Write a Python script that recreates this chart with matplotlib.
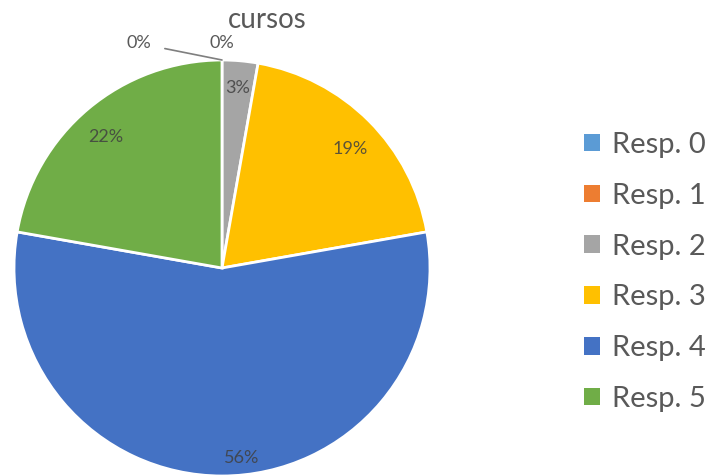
import numpy as np
import matplotlib
matplotlib.use('Agg')
import matplotlib.pyplot as plt

plt.rcParams['font.family'] = ['Lato', 'DejaVu Sans']

# 数据
categorias = ['Resp. 0', 'Resp. 1', 'Resp. 2', 'Resp. 3', 'Resp. 4', 'Resp. 5']
respuestas = [0, 0, 1, 7, 20, 8]
colores = ['#5B9BD5', '#ED7D31', '#A5A5A5', '#FFC000', '#4472C4', '#70AD47']
titulo = 'cursos'

W, H = 728, 476
fig = plt.figure(figsize=(W / 100, H / 100), dpi=100)

# 饼图位置 (像素)
cx, cy, r = 222, 268, 208
ax = fig.add_axes([(cx - r) / W, 1 - (cy + r) / H, 2 * r / W, 2 * r / H])
wedges, _ = ax.pie(respuestas, colors=colores, startangle=90, counterclock=False,
                   radius=1, wedgeprops=dict(edgecolor='white', linewidth=2))
ax.set_xlim(-1, 1)
ax.set_ylim(-1, 1)
ax.set_axis_off()

total = sum(respuestas)
# 标签的半径和角度偏移
label_r = [1.08, 1.08, 0.87, 0.84, 0.92, 0.84]
label_dang = [0, 0, 0, -2, 6, 1.5]
for i, (w, v) in enumerate(zip(wedges, respuestas)):
    pct = f'{round(100 * v / total):.0f}%'
    ang = np.deg2rad((w.theta1 + w.theta2) / 2 + label_dang[i])
    x, y = label_r[i] * np.cos(ang), label_r[i] * np.sin(ang)
    if i == 0:
        ax.annotate(pct, xy=(x / label_r[i], y / label_r[i]),
                    xytext=(x - 0.40, y), ha='center', va='center',
                    fontsize=13, color='#595959', annotation_clip=False,
                    arrowprops=dict(arrowstyle='-', color='#7f7f7f', lw=1.2,
                                    shrinkA=8, shrinkB=0))
    else:
        ax.text(x, y, pct, ha='center', va='center', fontsize=13,
                color='#404040' if v > 0 else '#595959', alpha=0.85 if v > 0 else 1,
                clip_on=False)

fig.text(267 / W, 1 - 20 / H, titulo, ha='center', va='center',
         fontsize=20, color='#595959')

leg = fig.legend(wedges, categorias, loc='center left',
                 bbox_to_anchor=(584 / W, 1 - 272 / H), frameon=False,
                 fontsize=21, handlelength=0.55, handleheight=0.55,
                 handletextpad=0.42, labelspacing=0.85,
                 borderaxespad=0, borderpad=0)
for t in leg.get_texts():
    t.set_color('#595959')
for h in leg.legend_handles:
    h.set_edgecolor('none')

fig.savefig('out.png', dpi=100)
